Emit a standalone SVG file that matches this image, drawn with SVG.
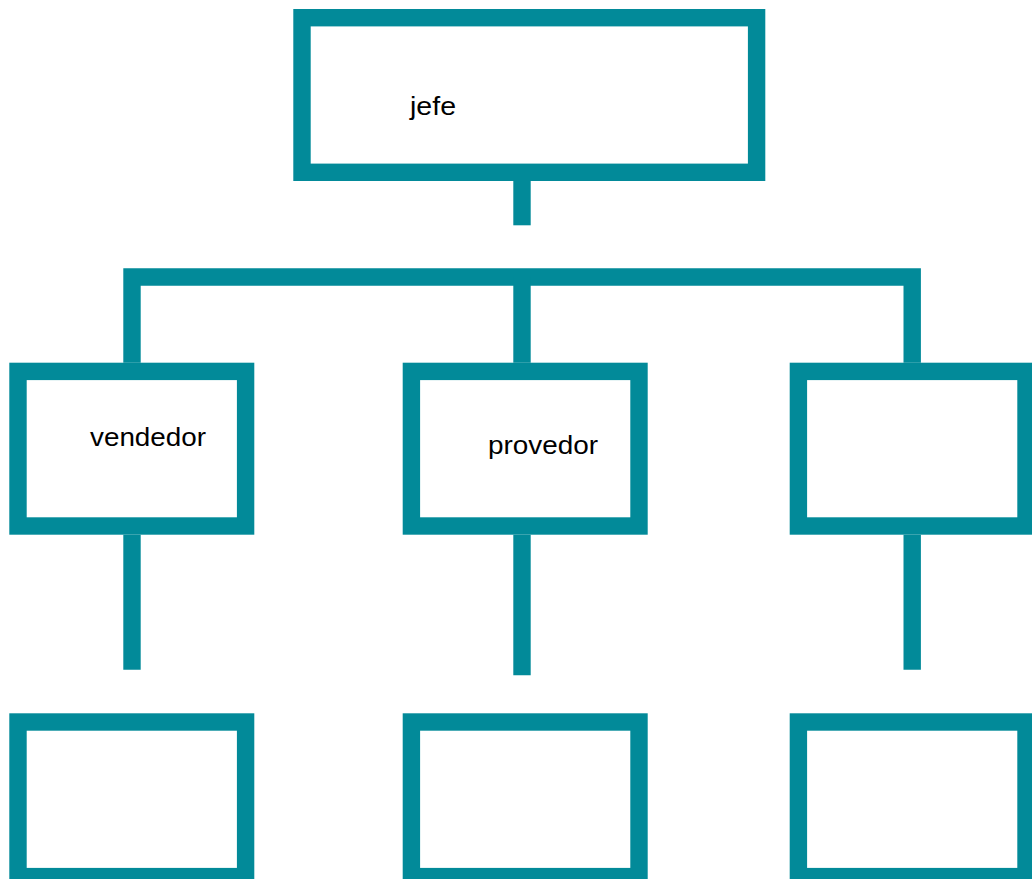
<svg xmlns="http://www.w3.org/2000/svg" width="1032" height="879" viewBox="0 0 1032 879">
<style>
.box{fill:#ffffff;stroke:#028a99;stroke-width:17.4}
.conn{fill:none;stroke:#028a99;stroke-width:17.4;stroke-linecap:butt;stroke-linejoin:miter}
.lbl{font-family:"Liberation Sans",Arial,sans-serif;font-size:26px;fill:#000000}
</style>
<rect width="1032" height="879" fill="#ffffff"/>
<g id="connectors">
<path class="conn" d="M522,181 V225.3"/>
<path class="conn" d="M132,362.7 V277 H912.2 V362.7"/>
<path class="conn" d="M522,277 V362.7"/>
<path class="conn" d="M132,534.7 V669.7"/>
<path class="conn" d="M522,534.7 V675.3"/>
<path class="conn" d="M912.2,534.7 V669.7"/>
</g>
<g id="node-jefe">
<rect class="box" x="302" y="17.7" width="454.6" height="154.6"/>
<text class="lbl" x="410" y="115" textLength="46" lengthAdjust="spacingAndGlyphs">jefe</text>
</g>
<g id="node-vendedor">
<rect class="box" x="18" y="371.4" width="227.6" height="154.6"/>
<text class="lbl" x="90" y="446" textLength="116" lengthAdjust="spacingAndGlyphs">vendedor</text>
</g>
<g id="node-provedor">
<rect class="box" x="411.4" y="371.4" width="227.6" height="154.6"/>
<text class="lbl" x="488" y="454" textLength="110" lengthAdjust="spacingAndGlyphs">provedor</text>
</g>
<g id="node-right">
<rect class="box" x="798.4" y="371.4" width="227.6" height="154.6"/>
</g>
<g id="node-bottom-left">
<rect class="box" x="18" y="722" width="227.6" height="154.6"/>
</g>
<g id="node-bottom-middle">
<rect class="box" x="411.4" y="722" width="227.6" height="154.6"/>
</g>
<g id="node-bottom-right">
<rect class="box" x="798.4" y="722" width="227.6" height="154.6"/>
</g>
</svg>
